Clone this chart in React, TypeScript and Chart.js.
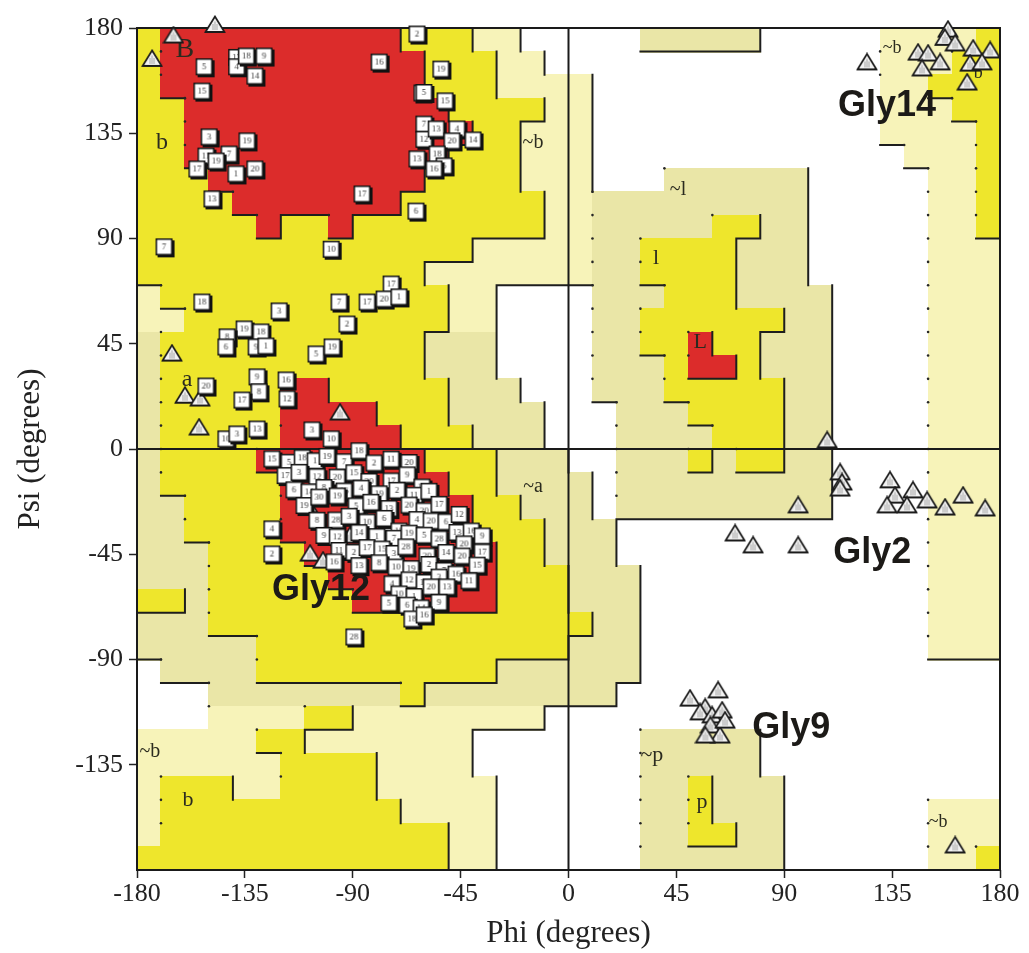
import React, { useEffect, useRef } from "react";
import { Chart, registerables } from "chart.js";

Chart.register(...registerables);

// Axis ticks (degrees)
const phiTicks = [-180, -135, -90, -45, 0, 45, 90, 135, 180];
const psiTicks = [-135, -90, -45, 0, 45, 90, 135, 180];

// Ramachandran regions on a 10-degree grid, run-length encoded per psi row.
// Row 0 is psi 170..180, row 35 is psi -180..-170; each row runs phi -180..180.
// R most favoured, Y additional allowed, C and B generously allowed, W disallowed.
const regionRuns = [
  "Y1 R10 Y3 C2 W5 B5 W5 C4 Y1",
  "Y1 R11 Y3 C2 W14 C3 Y2",
  "Y1 R11 Y3 C4 W12 C2 Y3",
  "Y2 R11 Y4 C2 W12 C3 Y2",
  "Y2 R12 Y2 C3 W12 C4 Y1",
  "Y2 R11 Y3 C3 W13 C3 Y1",
  "Y3 R9 Y4 C3 W3 B6 W5 C2 Y1",
  "Y4 R7 Y6 C2 B9 W5 C2 Y1",
  "Y5 R1 Y2 R1 Y8 C2 B5 Y2 B2 W5 C2 Y1",
  "Y14 C5 B2 Y4 B3 W5 C3",
  "Y12 C7 B2 Y4 B3 W5 C3",
  "C1 Y12 C2 W4 B3 Y3 B4 W4 C3",
  "C2 Y11 C2 W4 B2 Y6 B2 W4 C3",
  "B1 Y11 B3 W4 B2 Y2 R1 Y2 B3 W4 C3",
  "B1 Y11 B3 W4 B3 Y1 R2 Y1 B3 W4 C3",
  "B1 Y5 R2 Y5 B3 W3 B3 Y5 B2 W4 C3",
  "B1 Y5 R4 Y3 B4 W3 B3 Y4 B2 W4 C3",
  "B1 Y5 R5 Y3 B3 W3 B4 Y3 B2 W4 C3",
  "B1 Y4 R7 Y3 B3 W2 B3 Y1 B1 Y2 B2 W4 C3",
  "B1 Y5 R7 Y2 B4 W1 B9 W4 C3",
  "B2 Y4 R8 Y2 B3 W1 B9 W4 C3",
  "B2 Y4 R8 Y3 B3 W13 C3",
  "B3 Y4 R8 Y2 B3 W13 C3",
  "B3 Y5 R7 Y3 B3 W12 C3",
  "Y2 B1 Y6 R6 Y3 B3 W12 C3",
  "B3 Y16 B2 W12 C3",
  "B5 Y13 B3 W12 C3",
  "W1 B4 Y10 B6 W15",
  "W3 B8 Y1 B8 W16",
  "W3 C4 Y2 C8 W19",
  "C5 Y2 C7 W7 B5 W10",
  "C6 Y4 C4 W7 B5 W10",
  "C1 Y3 C2 Y4 C5 W6 B2 Y1 B3 W9",
  "C1 Y10 C4 W6 B2 Y1 B3 W6 C3",
  "C1 Y12 C2 W6 B2 Y2 B2 W6 C3",
  "Y13 C2 W6 B6 W6 C2 Y1",
];

const regionColors: Record<string, string> = {
  R: "#dc2c2b",
  Y: "#eee62c",
  C: "#f7f3b9",
  B: "#eae6a7",
};
const regionRank: Record<string, number> = { W: 0, C: 1, B: 1, Y: 2, R: 3 };

// Region letters: text, phi, psi, font size
const regionLabelText = ["B", "b", "a", "~b", "~l", "l", "L", "~a", "~p", "p", "~b", "b", "~b", "b", "~b"];
const regionLabelPhi = [-160, -169.6, -159.1, -14.8, 45.7, 36.5, 54.9, -14.8, 34.8, 55.7, -174.6, -158.7, 135, 170.9, 154.2];
const regionLabelPsi = [170.6, 130.8, 29.5, 130.8, 110.7, 81.7, 45.8, -16.2, -130.8, -150.9, -129.5, -150.1, 171.4, 160.8, -159.5];
const regionLabelSize = [28, 24, 24, 20, 20, 22, 22, 20, 22, 22, 20, 22, 18, 18, 18];

// Non-glycine residues [phi, psi, model]
const betaResidues: [number, number, string][] = [
  [-62.8, 177, "2"], [-78.6, 165, "16"], [-138, 167, "13"], [-138, 163, "4"], [-134, 167.6, "18"],
  [-126.6, 167.6, "9"], [-130.4, 159, "14"], [-151.6, 163, "5"], [-152.5, 152.6, "15"], [-60.7, 151.8, "3"],
  [-59.9, 138.5, "7"], [-62.8, 123.6, "13"], [-63.2, 101.3, "6"], [-85.7, 108.6, "17"], [-98.6, 85, "10"],
  [-168.3, 86, "7"], [-149.5, 133, "3"], [-133.7, 131.3, "19"], [-141.2, 125.7, "7"], [-150.8, 124.8, "11"],
  [-146.6, 122.7, "19"], [-154.6, 119.3, "17"], [-138.3, 117.2, "1"], [-130.4, 119.3, "20"], [-148.3, 106.5, "13"],
  [-52.8, 162, "19"], [-59.9, 152, "5"], [-51.1, 148.4, "15"], [-59.9, 132, "12"], [-54.8, 136.4, "13"],
  [-46.1, 136.4, "4"], [-48.2, 131.3, "20"], [-39.4, 131.7, "14"], [-54.4, 125.7, "18"], [-51.5, 120.6, "6"],
  [-55.7, 119.3, "16"],
];

const bridgeResidues: [number, number, string][] = [
  [-152.5, 62.4, "18"], [-73.6, 70.1, "17"], [-83.6, 62.4, "17"], [-76.5, 63.7, "20"], [-70.3, 64.6, "1"],
  [-95.3, 62.4, "7"], [-120.3, 58.6, "3"], [-134.9, 50.9, "19"], [-127.9, 49.6, "18"], [-142, 47.5, "8"],
  [-142.5, 43.2, "6"], [-129.9, 43.2, "9"], [-125.8, 43.6, "1"], [-92, 53, "2"], [-104.9, 40.2, "5"],
  [-98.2, 43.2, "19"], [-129.5, 30.4, "9"], [-128.7, 24, "8"], [-135.8, 20.5, "17"], [-117.4, 29.1, "16"],
  [-117, 21, "12"], [-150.8, 26.5, "20"], [-142.5, 3.9, "10"], [-137.9, 6, "3"], [-129.5, 8.1, "13"],
  [-106.6, 7.7, "3"], [-98.6, 3.9, "10"], [-123.3, -34.6, "4"], [-123.3, -45.3, "2"], [-89.1, -80.8, "28"],
];

const helixResidues: [number, number, string][] = [
  [-123.3, -4.7, "15"], [-116.2, -6.1, "5"], [-110.7, -4.2, "18"], [-105.3, -5.5, "1"], [-100.3, -3.6, "19"],
  [-93.2, -5.9, "7"], [-87, -1.2, "18"], [-80.7, -6.4, "2"], [-73.6, -4.8, "11"], [-66.1, -6.2, "20"],
  [-117.8, -11.8, "17"], [-112, -10.4, "3"], [-104.5, -12.3, "12"], [-96.1, -12.5, "20"], [-89.1, -10.6, "15"],
  [-82.8, -14.3, "20"], [-73.6, -14.1, "17"], [-66.9, -11.5, "9"], [-60.7, -16.7, "17"],
  [-114.1, -17.9, "6"], [-107.8, -18.8, "14"], [-101.6, -16.9, "8"], [-93.2, -18.4, "15"], [-86.1, -17.2, "4"],
  [-78.6, -19.6, "19"], [-71.1, -18.1, "2"], [-64, -20.2, "11"], [-57.8, -18.5, "1"],
  [-109.9, -24.6, "19"], [-103.7, -21, "30"], [-96.1, -20.5, "19"], [-88.2, -24.8, "5"], [-82, -23.2, "16"],
  [-74.5, -25.9, "13"], [-66.1, -24.4, "20"], [-59.8, -26.9, "20"], [-53.6, -24.1, "17"],
  [-104.5, -30.9, "8"], [-96.6, -30.8, "28"], [-91.1, -29.2, "3"], [-83.6, -31.7, "10"], [-76.5, -30.1, "6"],
  [-70.3, -35.5, "18"], [-62.8, -30.6, "4"], [-56.9, -31.2, "20"], [-50.7, -31.6, "6"], [-45.2, -28.4, "12"],
  [-101.6, -37.4, "9"], [-96.1, -38, "12"], [-87, -36.2, "14"], [-79.5, -37.9, "1"], [-72.4, -38.6, "7"],
  [-66.1, -36.4, "19"], [-59.8, -37.3, "5"], [-53.6, -38.9, "28"], [-46.1, -36.1, "13"], [-40.2, -35.5, "16"],
  [-35.6, -37.6, "9"],
  [-95.3, -43.8, "11"], [-89.1, -44.6, "2"], [-83.6, -42.6, "17"], [-77.4, -43.2, "15"], [-72.4, -45.1, "3"],
  [-67.4, -42.3, "28"], [-58.6, -46.2, "20"], [-50.7, -44.7, "14"], [-43.2, -41, "20"], [-35.6, -44.5, "17"],
  [-97.4, -48.7, "16"], [-87, -50.3, "13"], [-78.6, -49.1, "8"], [-71.5, -50.9, "10"], [-65.3, -51.6, "19"],
  [-57.8, -49.8, "2"], [-51.5, -52.4, "7"], [-44, -46.2, "20"], [-37.7, -50.1, "15"],
  [-73.2, -58.1, "4"], [-66.1, -56.4, "12"], [-59.8, -57.5, "18"], [-53.6, -55.2, "3"], [-46.5, -53.9, "16"],
  [-41.1, -56.8, "11"],
  [-70.3, -62.4, "10"], [-64, -63.5, "1"], [-56.9, -59.4, "20"], [-50.3, -59.4, "13"],
  [-74.5, -66.3, "5"], [-66.9, -67.2, "6"], [-61.1, -68.4, "14"], [-53.6, -66, "9"],
  [-64.9, -73.1, "18"], [-59.8, -71.4, "16"],
];

// Glycine residues
const glycinePhi = [
  -147.5, -164.8, -173.7, -165.4, -160, -153.7, -154.1, -95.3, -108.7, -84.9, -79.9, -91.1, -75.7, -83.6,
  -107.8, -102.4, 107.9, 113.3, 114.1, 113.3, 95.8, 69.5, 77, 95.8, 134.1, 136.2, 143.7, 132.9, 141.2,
  149.6, 157.1, 164.6, 173.8, 124.5, 158.3, 157, 145.8, 150, 147.5, 155, 161.3, 168.8, 175.9, 167.5, 172.5,
  166.3, 50.7, 57, 62.4, 54.9, 59.9, 64.1, 59.2, 63.2, 57.1, 65.3, 161.3,
];
const glycinePsi = [
  181.5, 177, 167, 41, 23, 21.8, 9.4, 15.8, -23.9, -29.5, -23.9, -36.8, -33.8, -42.3,
  -44.5, -47.5, 3.9, -9.8, -14.1, -16.7, -23.9, -35.9, -41, -41, -13.2, -19.7, -17.5, -23.9, -23.9,
  -21.8, -24.8, -19.7, -25.2, 165.5, 179.5, 176, 169.7, 169.3, 162.9, 165.5, 173.6, 171.4, 170.6, 165, 165.5,
  156.9, -106.5, -110.3, -103, -112.4, -113.7, -111.6, -118, -122.3, -122.3, -115.9, -169.3,
];

// Glycine call-outs (left edge / baseline of the text)
const glyNoteText = ["Gly14", "Gly2", "Gly12", "Gly9"];
const glyNotePhi = [112.4, 110.4, -123.7, 76.6];
const glyNotePsi = [142.4, -48.7, -64.5, -123.5];

function expandRuns(line: string): string {
  return line
    .split(" ")
    .map((tok) => tok[0].repeat(parseInt(tok.slice(1), 10)))
    .join("");
}

const regionGrid = regionRuns.map(expandRuns);
const cellAt = (r: number, c: number) => regionGrid[r]?.[c] || "W";

const residueIcons = new Map<string, HTMLCanvasElement>();
function residueIcon(label: string): HTMLCanvasElement {
  const cached = residueIcons.get(label);
  if (cached) return cached;
  const cv = document.createElement("canvas");
  cv.width = 21;
  cv.height = 21;
  const g = cv.getContext("2d")!;
  g.fillStyle = "#111";
  g.fillRect(3, 3, 17, 17);
  g.fillStyle = "#ffffff";
  g.fillRect(1, 1, 16, 16);
  g.strokeStyle = "#111";
  g.lineWidth = 1.5;
  g.strokeRect(1.75, 1.75, 15.5, 15.5);
  g.fillStyle = "#3a3a3a";
  g.font = '9px "Liberation Serif"';
  g.textAlign = "center";
  g.textBaseline = "middle";
  g.fillText(label, 9.5, 10);
  residueIcons.set(label, cv);
  return cv;
}

let glyIconCache: HTMLCanvasElement | null = null;
function glycineIcon(): HTMLCanvasElement {
  if (glyIconCache) return glyIconCache;
  const cv = document.createElement("canvas");
  cv.width = 22;
  cv.height = 19;
  const g = cv.getContext("2d")!;
  g.beginPath();
  g.moveTo(11, 1.5);
  g.lineTo(20.5, 17);
  g.lineTo(1.5, 17);
  g.closePath();
  g.fillStyle = "#f3f3f3";
  g.fill();
  g.lineWidth = 1.7;
  g.strokeStyle = "#1b1b1b";
  g.stroke();
  g.strokeStyle = "#a5a5a5";
  g.lineWidth = 1;
  g.beginPath();
  g.moveTo(9, 9);
  g.lineTo(9, 15);
  g.moveTo(13, 9);
  g.lineTo(13, 15);
  g.moveTo(11, 6.5);
  g.lineTo(11, 15);
  g.stroke();
  g.fillStyle = "#1b1b1b";
  g.fillRect(1, 16, 20, 2);
  glyIconCache = cv;
  return cv;
}

const regionPlugin = {
  id: "ramachandranRegions",
  beforeDatasetsDraw(chart: any) {
    const { ctx, chartArea } = chart;
    const xs = chart.scales.x;
    const ys = chart.scales.y;
    const px = (phi: number) => xs.getPixelForValue(phi);
    const py = (psi: number) => ys.getPixelForValue(psi);
    ctx.save();
    // filled cells
    for (let r = 0; r < 36; r++) {
      for (let c = 0; c < 36; c++) {
        const code = cellAt(r, c);
        if (code === "W") continue;
        const x0 = px(-180 + c * 10);
        const x1 = px(-170 + c * 10);
        const y0 = py(180 - r * 10);
        const y1 = py(170 - r * 10);
        ctx.fillStyle = regionColors[code];
        ctx.fillRect(Math.floor(x0), Math.floor(y0), Math.ceil(x1 - x0) + 1, Math.ceil(y1 - y0) + 1);
      }
    }
    // Boundaries: solid where the better region lies left / above, dotted corners otherwise
    const dots: [number, number][] = [];
    ctx.strokeStyle = "#1e1e1e";
    ctx.lineWidth = 2;
    ctx.lineCap = "square";
    ctx.beginPath();
    for (let r = 0; r < 36; r++) {
      for (let c = 0; c < 36; c++) {
        const a = cellAt(r, c);
        if (c < 35) {
          const b = cellAt(r, c + 1);
          if (a !== b) {
            const x = px(-170 + c * 10);
            if (regionRank[a] > regionRank[b]) {
              ctx.moveTo(x, py(180 - r * 10));
              ctx.lineTo(x, py(170 - r * 10));
            } else if (r > 0) {
              dots.push([x, py(180 - r * 10)]);
            }
          }
        }
        if (r < 35) {
          const b = cellAt(r + 1, c);
          if (a !== b && regionRank[a] > regionRank[b]) {
            const y = py(170 - r * 10);
            ctx.moveTo(px(-180 + c * 10), y);
            ctx.lineTo(px(-170 + c * 10), y);
          }
        }
      }
    }
    ctx.stroke();
    ctx.fillStyle = "#262626";
    for (const [x, y] of dots) {
      ctx.beginPath();
      ctx.arc(x, y, 1.3, 0, Math.PI * 2);
      ctx.fill();
    }

    // region letters
    ctx.fillStyle = "#2b2b1f";
    ctx.textAlign = "center";
    ctx.textBaseline = "middle";
    for (let i = 0; i < regionLabelText.length; i++) {
      ctx.font = `${regionLabelSize[i]}px "Liberation Serif"`;
      ctx.fillText(regionLabelText[i], px(regionLabelPhi[i]), py(regionLabelPsi[i]));
    }

    // zero lines and frame
    ctx.strokeStyle = "#1a1a1a";
    ctx.lineWidth = 2;
    ctx.lineCap = "butt";
    ctx.beginPath();
    ctx.moveTo(px(0), chartArea.top);
    ctx.lineTo(px(0), chartArea.bottom);
    ctx.moveTo(chartArea.left, py(0));
    ctx.lineTo(chartArea.right, py(0));
    ctx.stroke();
    ctx.strokeRect(chartArea.left, chartArea.top, chartArea.right - chartArea.left, chartArea.bottom - chartArea.top);
    ctx.restore();
  },
  afterDatasetsDraw(chart: any) {
    const { ctx } = chart;
    const xs = chart.scales.x;
    const ys = chart.scales.y;
    ctx.save();
    ctx.fillStyle = "#1c1a17";
    ctx.font = 'bold 36px "Liberation Sans"';
    ctx.textAlign = "left";
    ctx.textBaseline = "alphabetic";
    for (let i = 0; i < glyNoteText.length; i++) {
      ctx.fillText(glyNoteText[i], xs.getPixelForValue(glyNotePhi[i]), ys.getPixelForValue(glyNotePsi[i]));
    }
    ctx.restore();
  },
};

const allResidues = [...betaResidues, ...bridgeResidues, ...helixResidues];

export default function App() {
  const canvasRef = useRef<HTMLCanvasElement>(null);

  useEffect(() => {
    document.body.style.margin = "0";
    const canvas = canvasRef.current;
    if (!canvas) return;
    const serif = "Liberation Serif";
    const chart = new Chart(canvas, {
      type: "scatter",
      data: {
        datasets: [
          {
            label: "Residues",
            data: allResidues.map(([phi, psi]) => ({ x: phi, y: psi })),
            pointStyle: ((ctx: any) => residueIcon(allResidues[ctx.dataIndex]?.[2] ?? "")) as any,
            pointRadius: 9,
            clip: false as any,
          },
          {
            label: "Glycines",
            data: glycinePhi.map((phi, i) => ({ x: phi, y: glycinePsi[i] })),
            pointStyle: glycineIcon() as any,
            pointRadius: 9,
            clip: false as any,
          },
        ],
      },
      options: {
        responsive: false,
        animation: false,
        events: [],
        layout: { padding: { top: 28, right: 29, left: 0, bottom: 0 } },
        plugins: {
          legend: { display: false },
          tooltip: { enabled: false },
        },
        scales: {
          x: {
            type: "linear",
            min: -180,
            max: 180,
            afterBuildTicks: (s: any) => {
              s.ticks = phiTicks.map((v) => ({ value: v }));
            },
            afterFit: (s: any) => {
              s.height = 83;
            },
            grid: {
              drawOnChartArea: false,
              drawTicks: true,
              tickLength: 8,
              tickWidth: 1.5,
              tickColor: "#222",
            },
            border: { display: false },
            ticks: {
              font: { family: serif, size: 26 },
              color: "#222",
              padding: 1,
              maxRotation: 0,
              autoSkip: false,
            },
            title: {
              display: true,
              text: "Phi (degrees)",
              font: { family: serif, size: 31 },
              color: "#222",
              padding: { top: 0, bottom: 1 },
            },
          },
          y: {
            type: "linear",
            min: -180,
            max: 180,
            afterBuildTicks: (s: any) => {
              s.ticks = psiTicks.map((v) => ({ value: v }));
            },
            afterFit: (s: any) => {
              s.width = 137;
            },
            grid: {
              drawOnChartArea: false,
              drawTicks: true,
              tickLength: 8,
              tickWidth: 1.5,
              tickColor: "#222",
            },
            border: { display: false },
            ticks: {
              font: { family: serif, size: 26 },
              color: "#222",
              padding: 6,
              autoSkip: false,
            },
            title: {
              display: true,
              text: "Psi (degrees)",
              font: { family: serif, size: 31 },
              color: "#222",
              padding: { top: 12, bottom: 0 },
            },
          },
        },
      },
      plugins: [regionPlugin],
    });
    return () => chart.destroy();
  }, []);

  return (
    <canvas
      ref={canvasRef}
      width={1029}
      height={953}
      style={{ display: "block", width: 1029, height: 953 }}
    />
  );
}
